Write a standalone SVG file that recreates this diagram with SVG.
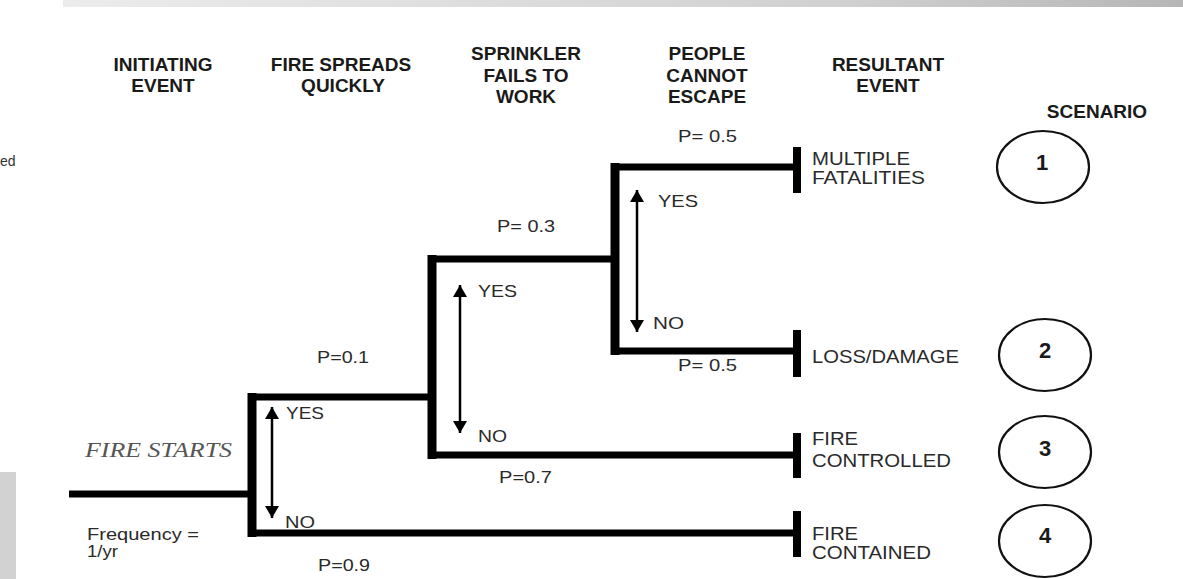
<svg xmlns="http://www.w3.org/2000/svg" width="1183" height="579" viewBox="0 0 1183 579">
  <defs>
    <linearGradient id="topbar" x1="0" y1="0" x2="1" y2="0">
      <stop offset="0" stop-color="#ececec"/>
      <stop offset="0.7" stop-color="#d0d0d0"/>
      <stop offset="1" stop-color="#b6b6b6"/>
    </linearGradient>
    <marker id="ah" viewBox="0 0 12 14" refX="12" refY="7" markerWidth="12" markerHeight="14" markerUnits="userSpaceOnUse" orient="auto-start-reverse">
      <path d="M0 0 L12 7 L0 14 z" fill="#000"/>
    </marker>
  </defs>
  <style>
    .hdr { font-family: "Liberation Sans", Arial, sans-serif; font-weight: bold; font-size: 19px; fill: #1a1a1a; text-anchor: middle; }
    .lbl { font-family: "Liberation Sans", Arial, sans-serif; font-size: 17px; fill: #2a2a2a; }
    .res { font-family: "Liberation Sans", Arial, sans-serif; font-size: 18.5px; fill: #2a2a2a; }
    .num { font-family: "Liberation Sans", Arial, sans-serif; font-weight: bold; font-size: 22px; fill: #1a1a1a; text-anchor: middle; }
    .vbar { stroke: #000; stroke-width: 9; fill: none; }
    .hbar { stroke: #000; stroke-width: 7; fill: none; }
    .endbar { stroke: #000; stroke-width: 8; fill: none; }
    .arr { stroke: #000; stroke-width: 2.5; fill: none; marker-start: url(#ah); marker-end: url(#ah); }
    .scen { fill: none; stroke: #111; stroke-width: 2.2; }
  </style>
  <rect width="1183" height="579" fill="#fff"/>
  <!-- page decorations -->
  <rect x="63" y="0" width="1120" height="7" fill="url(#topbar)"/>
  <rect x="0" y="472" width="16" height="107" fill="#d2d2d2"/>
  <text x="0" y="166" font-family="Liberation Sans, Arial, sans-serif" font-size="14" fill="#333">ed</text>

  <!-- headers -->
  <g id="headers">
    <text class="hdr" x="163" y="71">INITIATING</text>
    <text class="hdr" x="163" y="92">EVENT</text>
    <text class="hdr" x="341" y="71">FIRE SPREADS</text>
    <text class="hdr" x="343" y="92">QUICKLY</text>
    <text class="hdr" x="526" y="60">SPRINKLER</text>
    <text class="hdr" x="526" y="82">FAILS TO</text>
    <text class="hdr" x="526" y="103">WORK</text>
    <text class="hdr" x="707" y="60">PEOPLE</text>
    <text class="hdr" x="707" y="82">CANNOT</text>
    <text class="hdr" x="707" y="103">ESCAPE</text>
    <text class="hdr" x="888" y="71">RESULTANT</text>
    <text class="hdr" x="888" y="92">EVENT</text>
    <text class="hdr" x="1097" y="118">SCENARIO</text>
  </g>

  <!-- connectors (event tree branches) -->
  <g id="connectors">
    <line class="hbar" x1="69" y1="494" x2="252" y2="494"/>
    <!-- node 1 -->
    <line class="vbar" x1="252" y1="393" x2="252" y2="537"/>
    <line class="hbar" x1="248" y1="397" x2="432" y2="397"/>
    <line class="hbar" x1="248" y1="533" x2="797" y2="533"/>
    <!-- node 2 -->
    <line class="vbar" x1="432" y1="255" x2="432" y2="459"/>
    <line class="hbar" x1="428" y1="259" x2="615" y2="259"/>
    <line class="hbar" x1="428" y1="455" x2="797" y2="455"/>
    <!-- node 3 -->
    <line class="vbar" x1="615" y1="163" x2="615" y2="355"/>
    <line class="hbar" x1="611" y1="167" x2="797" y2="167"/>
    <line class="hbar" x1="611" y1="351" x2="797" y2="351"/>
    <!-- end bars -->
    <line class="endbar" x1="797" y1="147" x2="797" y2="193"/>
    <line class="endbar" x1="797" y1="330" x2="797" y2="377"/>
    <line class="endbar" x1="797" y1="433" x2="797" y2="478"/>
    <line class="endbar" x1="797" y1="511" x2="797" y2="557"/>
    <!-- yes/no arrows -->
    <line class="arr" x1="272" y1="407" x2="272" y2="518"/>
    <line class="arr" x1="460" y1="285" x2="460" y2="433"/>
    <line class="arr" x1="637" y1="190" x2="637" y2="332"/>
  </g>

  <g id="node-fire-starts">
    <text x="85" y="457" font-family="Liberation Serif, Times New Roman, serif" font-style="italic" font-size="20" fill="#555" textLength="147" lengthAdjust="spacingAndGlyphs">FIRE STARTS</text>
    <text class="lbl" x="87" y="540" textLength="112" lengthAdjust="spacingAndGlyphs">Frequency =</text>
    <text class="lbl" x="87" y="557" textLength="31" lengthAdjust="spacingAndGlyphs">1/yr</text>
  </g>

  <g id="node-fire-spreads">
    <text class="lbl" x="286" y="419" textLength="38" lengthAdjust="spacingAndGlyphs">YES</text>
    <text class="lbl" x="285" y="528" textLength="30" lengthAdjust="spacingAndGlyphs">NO</text>
    <text class="lbl" x="317" y="363" textLength="52" lengthAdjust="spacingAndGlyphs">P=0.1</text>
    <text class="lbl" x="318" y="571" textLength="52" lengthAdjust="spacingAndGlyphs">P=0.9</text>
  </g>

  <g id="node-sprinkler">
    <text class="lbl" x="478" y="297" textLength="39" lengthAdjust="spacingAndGlyphs">YES</text>
    <text class="lbl" x="478" y="442" textLength="29" lengthAdjust="spacingAndGlyphs">NO</text>
    <text class="lbl" x="497" y="232" textLength="58" lengthAdjust="spacingAndGlyphs">P= 0.3</text>
    <text class="lbl" x="499" y="483" textLength="53" lengthAdjust="spacingAndGlyphs">P=0.7</text>
  </g>

  <g id="node-people">
    <text class="lbl" x="658" y="207" textLength="40" lengthAdjust="spacingAndGlyphs">YES</text>
    <text class="lbl" x="653" y="329" textLength="31" lengthAdjust="spacingAndGlyphs">NO</text>
    <text class="lbl" x="678" y="142" textLength="59" lengthAdjust="spacingAndGlyphs">P= 0.5</text>
    <text class="lbl" x="678" y="371" textLength="59" lengthAdjust="spacingAndGlyphs">P= 0.5</text>
  </g>

  <g id="result-1">
    <text class="res" x="812" y="165" textLength="98" lengthAdjust="spacingAndGlyphs">MULTIPLE</text>
    <text class="res" x="812" y="184" textLength="113" lengthAdjust="spacingAndGlyphs">FATALITIES</text>
  </g>
  <g id="result-2">
    <text class="res" x="812" y="363" textLength="147" lengthAdjust="spacingAndGlyphs">LOSS/DAMAGE</text>
  </g>
  <g id="result-3">
    <text class="res" x="812" y="445" textLength="46" lengthAdjust="spacingAndGlyphs">FIRE</text>
    <text class="res" x="812" y="467" textLength="139" lengthAdjust="spacingAndGlyphs">CONTROLLED</text>
  </g>
  <g id="result-4">
    <text class="res" x="812" y="540" textLength="46" lengthAdjust="spacingAndGlyphs">FIRE</text>
    <text class="res" x="812" y="559" textLength="119" lengthAdjust="spacingAndGlyphs">CONTAINED</text>
  </g>

  <g id="scenario-1">
    <ellipse class="scen" cx="1043" cy="167" rx="46" ry="36"/>
    <text class="num" x="1042" y="170">1</text>
  </g>
  <g id="scenario-2">
    <ellipse class="scen" cx="1045" cy="355" rx="46" ry="36"/>
    <text class="num" x="1045" y="358">2</text>
  </g>
  <g id="scenario-3">
    <ellipse class="scen" cx="1045" cy="452" rx="46" ry="36"/>
    <text class="num" x="1045" y="456">3</text>
  </g>
  <g id="scenario-4">
    <ellipse class="scen" cx="1045" cy="541" rx="46" ry="36"/>
    <text class="num" x="1045" y="543">4</text>
  </g>
</svg>
